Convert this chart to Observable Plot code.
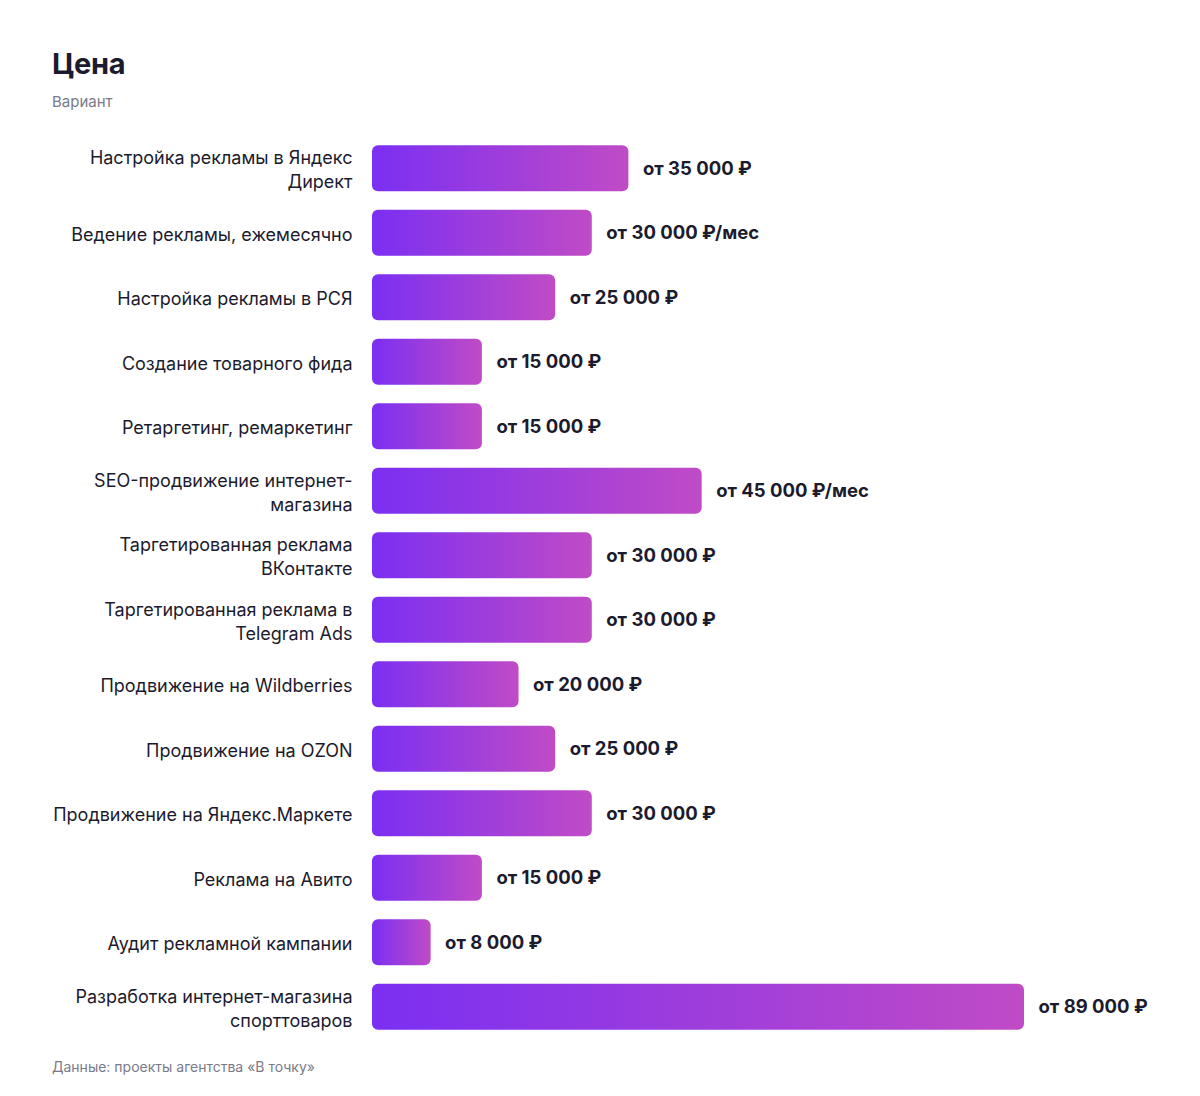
<!DOCTYPE html>
<html>
<head>
<meta charset="utf-8">
<script src="https://cdn.jsdelivr.net/npm/d3@7"></script>
<script src="https://cdn.jsdelivr.net/npm/@observablehq/plot@0.6"></script>
<style>
  html, body { margin: 0; padding: 0; background: #fff; }
  body { width: 1200px; height: 1096px; position: relative; font-family: Inter, "Noto Sans", sans-serif; }
  #title { position: absolute; left: 52px; top: 46px; font-size: 29px; line-height: 36px; font-weight: 700; color: #1c1b2e; letter-spacing: -0.3px; }
  #subtitle { position: absolute; left: 52px; top: 93px; font-size: 15px; line-height: 18px; color: #7a7a8a; }
  #chart { position: absolute; left: 0; top: 125px; }
  #footer { position: absolute; left: 52px; top: 1058px; font-size: 14px; line-height: 18px; color: #7a7a8a; }
</style>
</head>
<body>
<div id="title">Цена</div>
<div id="subtitle">Вариант</div>
<div id="chart"></div>
<div id="footer">Данные: проекты агентства «В точку»</div>
<script>
const categories = [
  "Настройка рекламы в Яндекс\nДирект",
  "Ведение рекламы, ежемесячно",
  "Настройка рекламы в РСЯ",
  "Создание товарного фида",
  "Ретаргетинг, ремаркетинг",
  "SEO-продвижение интернет-\nмагазина",
  "Таргетированная реклама\nВКонтакте",
  "Таргетированная реклама в\nTelegram Ads",
  "Продвижение на Wildberries",
  "Продвижение на OZON",
  "Продвижение на Яндекс.Маркете",
  "Реклама на Авито",
  "Аудит рекламной кампании",
  "Разработка интернет-магазина\nспорттоваров"
];
const prices = [35000, 30000, 25000, 15000, 15000, 45000, 30000, 30000, 20000, 25000, 30000, 15000, 8000, 89000];
const suffixes = ["", "/мес", "", "", "", "/мес", "", "", "", "", "", "", "", ""];

const data = categories.map((c, i) => ({name: c, value: prices[i], suffix: suffixes[i]}));
const fmt = v => "от " + d3.format(",")(v).replace(/,/g, " ") + " ₽";

const plot = Plot.plot({
  width: 1200,
  height: 924,
  marginTop: 11,
  marginBottom: 10,
  marginLeft: 372,
  marginRight: 176,
  style: {fontFamily: "Inter, 'Noto Sans', sans-serif", background: "#fff", color: "#1c1b2e"},
  x: {domain: [0, 89000], axis: null},
  y: {domain: categories, axis: null, paddingInner: 0.286, paddingOuter: 0.143, round: false},
  marks: [
    Plot.barX(data, {x: "value", y: "name", fill: "url(#barGrad)", rx: 6}),
    Plot.text(data, {
      y: "name", text: "name", frameAnchor: "left", textAnchor: "end", dx: -20,
      fontSize: 18, lineHeight: 1.33, fill: "#1c1b2e"
    }),
    Plot.text(data, {
      x: "value", y: "name", text: d => fmt(d.value) + d.suffix, textAnchor: "start", dx: 14,
      fontSize: 18.5, fontWeight: 700, fill: "#1c1b2e"
    })
  ]
});

const ns = "http://www.w3.org/2000/svg";
const defs = document.createElementNS(ns, "defs");
const grad = document.createElementNS(ns, "linearGradient");
grad.setAttribute("id", "barGrad");
grad.setAttribute("x1", "0"); grad.setAttribute("y1", "0");
grad.setAttribute("x2", "1"); grad.setAttribute("y2", "0");
[["0%", "#7b2ff2"], ["100%", "#c04bc6"]].forEach(([o, c]) => {
  const s = document.createElementNS(ns, "stop");
  s.setAttribute("offset", o); s.setAttribute("stop-color", c);
  grad.appendChild(s);
});
defs.appendChild(grad);
plot.insertBefore(defs, plot.firstChild);
document.getElementById("chart").appendChild(plot);
</script>
</body>
</html>
